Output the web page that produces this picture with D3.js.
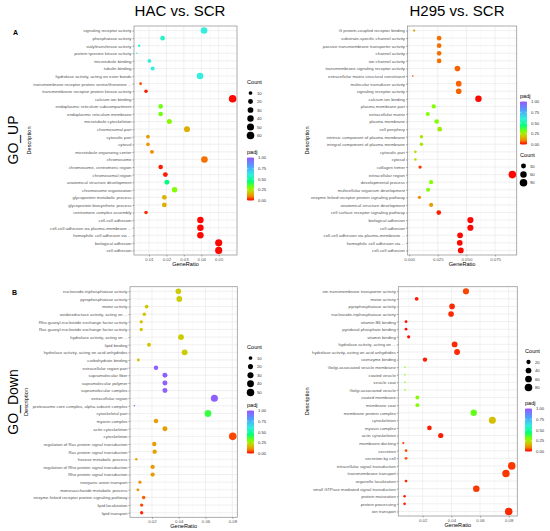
<!DOCTYPE html>
<html>
<head>
<meta charset="utf-8">
<script src="https://cdn.jsdelivr.net/npm/d3@7"></script>
<style>
  body { margin: 0; background: #fff; }
  text { font-family: "Liberation Sans", Arial, sans-serif; }
</style>
</head>
<body>
<div id="chart"></div>
<script>
// GO_UP, HAC vs. SCR
const upHacTerms = [
  "signaling receptor activity", "phosphatase activity", "sialyltransferase activity",
  "protein tyrosine kinase activity", "microtubule binding", "tubulin binding",
  "hydrolase activity, acting on ester bonds", "transmembrane receptor protein serine/threonine ...",
  "transmembrane receptor protein kinase activity", "calcium ion binding",
  "endoplasmic reticulum subcompartment", "endoplasmic reticulum membrane",
  "microtubule cytoskeleton", "chromosomal part", "cytosolic part", "cytosol",
  "microtubule organizing center", "chromosome", "chromosome, centromeric region",
  "chromosomal region", "anatomical structure development", "chromosome organization",
  "glycoprotein metabolic process", "glycoprotein biosynthetic process",
  "centromere complex assembly", "cell-cell adhesion", "cell-cell adhesion via plasma-membrane ...",
  "homophilic cell adhesion via ...", "biological adhesion", "cell adhesion"
];
const upHacRatio = [0.0416, 0.0178, 0.0043, 0.0031, 0.0102, 0.0121, 0.0393, 0.0052, 0.0083, 0.058,
  0.0167, 0.0167, 0.0217, 0.0318, 0.0094, 0.0094, 0.0117, 0.0418, 0.0167, 0.0194,
  0.0203, 0.0247, 0.0188, 0.0188, 0.0083, 0.0395, 0.0395, 0.0395, 0.05, 0.05];
const upHacCount = [43, 18, 4, 3, 11, 13, 41, 5, 9, 60, 17, 17, 22, 33, 10, 10, 12, 43, 17, 20,
  21, 26, 19, 19, 9, 41, 41, 41, 52, 52];
const upHacPadj = [0.6, 0.56, 0.6, 0.6, 0.6, 0.6, 0.6, 0.05, 0.02, 0.005, 0.32, 0.32, 0.29, 0.15, 0.12, 0.12,
  0.1, 0.08, 0.02, 0.02, 0.45, 0.3, 0.16, 0.16, 0.03, 0.005, 0.005, 0.005, 0.005, 0.005];
const upHacTicks = [0.01, 0.02, 0.03, 0.04, 0.05];
const upHacCountBreaks = [10, 20, 30, 40, 50, 60];

// GO_UP, H295 vs. SCR
const upH295Terms = [
  "G protein-coupled receptor binding", "substrate-specific channel activity",
  "passive transmembrane transporter activity", "channel activity", "ion channel activity",
  "transmembrane signaling receptor activity", "extracellular matrix structural constituent",
  "molecular transducer activity", "signaling receptor activity", "calcium ion binding",
  "plasma membrane part", "extracellular matrix", "plasma membrane", "cell periphery",
  "intrinsic component of plasma membrane", "integral component of plasma membrane",
  "cytosolic part", "cytosol", "collagen trimer", "extracellular region", "developmental process",
  "multicellular organism development", "enzyme linked receptor protein signaling pathway",
  "anatomical structure development", "cell surface receptor signaling pathway",
  "biological adhesion", "cell adhesion", "cell-cell adhesion via plasma-membrane ...",
  "homophilic cell adhesion via ...", "cell-cell adhesion"
];
const upH295Ratio = [0.0044, 0.0262, 0.0262, 0.0262, 0.0262, 0.0422, 0.0032, 0.0433, 0.0433, 0.0605,
  0.0215, 0.0163, 0.0241, 0.0267, 0.0108, 0.0108, 0.0055, 0.0055, 0.0096, 0.0901,
  0.0192, 0.0166, 0.009, 0.0192, 0.0259, 0.0535, 0.0535, 0.0445, 0.0442, 0.0451];
const upH295Count = [4, 26, 26, 26, 26, 42, 3, 43, 43, 60, 21, 16, 24, 27, 11, 11, 5, 5, 10, 90,
  19, 17, 9, 19, 26, 53, 53, 44, 44, 45];
const upH295Padj = [0.13, 0.08, 0.08, 0.08, 0.08, 0.07, 0.05, 0.07, 0.07, 0.005, 0.3, 0.3, 0.3, 0.26,
  0.25, 0.25, 0.23, 0.23, 0.04, 0.005, 0.3, 0.3, 0.1, 0.13, 0.02, 0.005, 0.005, 0.005, 0.005, 0.005];
const upH295Ticks = [0, 0.025, 0.05, 0.075];
const upH295CountBreaks = [30, 60, 90];

// GO_Down, HAC vs. SCR
const downHacTerms = [
  "nucleoside-triphosphatase activity", "pyrophosphatase activity", "motor activity",
  "oxidoreductase activity, acting on ...", "Rho guanyl-nucleotide exchange factor activity",
  "Ras guanyl-nucleotide exchange factor activity", "hydrolase activity, acting on ...",
  "lipid binding", "hydrolase activity, acting on acid anhydrides", "carbohydrate binding",
  "extracellular region part", "supramolecular fiber", "supramolecular polymer",
  "supramolecular complex", "extracellular region", "proteasome core complex, alpha-subunit complex",
  "cytoskeletal part", "myosin complex", "actin cytoskeleton", "cytoskeleton",
  "regulation of Ras protein signal transduction", "Ras protein signal transduction",
  "hexose metabolic process", "regulation of Rho protein signal transduction",
  "Rho protein signal transduction", "inorganic anion transport", "monosaccharide metabolic process",
  "enzyme linked receptor protein signaling pathway", "lipid localization", "lipid transport"
];
const downHacRatio = [0.0397, 0.0404, 0.016, 0.0143, 0.012, 0.012, 0.0417, 0.0178, 0.0444, 0.0098,
  0.023, 0.0297, 0.0297, 0.0297, 0.0666, 0.0068, 0.0618, 0.023, 0.0297, 0.0803,
  0.0217, 0.022, 0.0083, 0.0205, 0.0205, 0.011, 0.0095, 0.0138, 0.0123, 0.0123];
const downHacCount = [25, 26, 10, 9, 8, 8, 27, 11, 28, 6, 15, 19, 19, 19, 43, 4, 40, 15, 19, 51,
  14, 14, 5, 13, 13, 7, 6, 9, 8, 8];
const downHacPadj = [0.2, 0.2, 0.19, 0.19, 0.19, 0.19, 0.2, 0.19, 0.2, 0.18, 0.97, 0.97, 0.97, 0.97,
  0.97, 0.97, 0.38, 0.13, 0.13, 0.05, 0.13, 0.13, 0.14, 0.12, 0.12, 0.11, 0.1, 0.07, 0.05, 0.03];
const downHacTicks = [0.02, 0.04, 0.06, 0.08];
const downHacCountBreaks = [10, 20, 30, 40, 50];

// GO_Down, H295 vs. SCR
const downH295Terms = [
  "ion transmembrane transporter activity", "motor activity", "pyrophosphatase activity",
  "nucleoside-triphosphatase activity", "vitamin B6 binding", "pyridoxal phosphate binding",
  "vitamin binding", "hydrolase activity, acting on ...", "hydrolase activity, acting on acid anhydrides",
  "coenzyme binding", "Golgi-associated vesicle membrane", "coated vesicle", "vesicle coat",
  "Golgi-associated vesicle", "coated membrane", "membrane coat", "membrane protein complex",
  "cytoskeleton", "myosin complex", "actin cytoskeleton", "membrane docking", "secretion",
  "secretion by cell", "intracellular signal transduction", "transmembrane transport",
  "organelle localization", "small GTPase mediated signal transduction", "protein maturation",
  "protein processing", "ion transport"
];
const downH295Ratio = [0.0502, 0.0158, 0.0405, 0.0398, 0.0084, 0.0084, 0.0102, 0.0423, 0.044, 0.0216,
  0.0076, 0.0076, 0.0076, 0.0076, 0.0163, 0.0163, 0.0556, 0.0686, 0.0247, 0.0326,
  0.0065, 0.0084, 0.0084, 0.0821, 0.0781, 0.0084, 0.0574, 0.0074, 0.0074, 0.08];
const downH295Count = [49, 15, 39, 39, 8, 8, 10, 41, 43, 21, 5, 5, 5, 5, 16, 16, 54, 67, 24, 32,
  6, 8, 8, 80, 76, 8, 56, 7, 7, 78];
const downH295Padj = [0.05, 0.02, 0.03, 0.03, 0.01, 0.01, 0.01, 0.03, 0.03, 0.02, 0.3, 0.3, 0.3, 0.3,
  0.3, 0.3, 0.33, 0.18, 0.02, 0.02, 0.05, 0.06, 0.06, 0.04, 0.04, 0.03, 0.04, 0.02, 0.02, 0.03];
const downH295Ticks = [0.02, 0.04, 0.06, 0.08];
const downH295CountBreaks = [20, 40, 60, 80];

const padjStops = [0, 0.1, 0.2, 0.3, 0.45, 0.6, 0.8, 1];
const padjColors = ["#ff0000", "#f28c00", "#cccc00", "#80ff00", "#00ff80", "#33eedd", "#4f9fff", "#9955ff"];
const padjTicks = [0, 0.25, 0.5, 0.75, 1];

const color = d3.scaleLinear().domain(padjStops).range(padjColors).clamp(true);

const svg = d3.select("#chart").append("svg").attr("width", 550).attr("height", 531);

// one gradient for all colour bars
const grad = svg.append("defs").append("linearGradient")
  .attr("id", "padjGrad").attr("x1", 0).attr("y1", 1).attr("x2", 0).attr("y2", 0);
d3.range(0, 1.001, 0.05).forEach((t) => {
  grad.append("stop").attr("offset", t).attr("stop-color", color(t));
});

function drawPanel(p) {
  const g = svg.append("g");
  const x = d3.scaleLinear().domain(p.domain).range([p.left, p.right]);
  const y = d3.scalePoint().domain(p.terms).range([p.top, p.bottom]).padding(0.6);

  const cMin = d3.min(p.counts);
  const cMax = d3.max(p.counts);
  const radius = (c) => 0.8 + 3.0 * Math.sqrt(Math.max(0, (c - cMin) / (cMax - cMin)));

  // panel + grid
  g.append("rect")
    .attr("x", p.left).attr("y", p.top)
    .attr("width", p.right - p.left).attr("height", p.bottom - p.top)
    .attr("fill", "#fff");

  const step = p.ticks[1] - p.ticks[0];
  const minor = d3.range(p.ticks[0] - step / 2, p.domain[1], step).filter((v) => v > p.domain[0]);
  g.selectAll(".minor").data(minor).enter().append("line")
    .attr("x1", (d) => x(d)).attr("x2", (d) => x(d))
    .attr("y1", p.top).attr("y2", p.bottom)
    .attr("stroke", "#f2f2f2").attr("stroke-width", 0.4);
  g.selectAll(".vmajor").data(p.ticks).enter().append("line")
    .attr("x1", (d) => x(d)).attr("x2", (d) => x(d))
    .attr("y1", p.top).attr("y2", p.bottom)
    .attr("stroke", "#e6e6e6").attr("stroke-width", 0.6);
  g.selectAll(".hmajor").data(p.terms).enter().append("line")
    .attr("x1", p.left).attr("x2", p.right)
    .attr("y1", (d) => y(d)).attr("y2", (d) => y(d))
    .attr("stroke", "#e6e6e6").attr("stroke-width", 0.6);

  // points
  g.selectAll("circle.pt").data(p.terms).enter().append("circle")
    .attr("cx", (d, i) => x(p.ratio[i]))
    .attr("cy", (d) => y(d))
    .attr("r", (d, i) => radius(p.counts[i]))
    .attr("fill", (d, i) => color(p.padj[i]));

  g.append("rect")
    .attr("x", p.left).attr("y", p.top)
    .attr("width", p.right - p.left).attr("height", p.bottom - p.top)
    .attr("fill", "none").attr("stroke", "#999").attr("stroke-width", 0.8);

  // axes
  const yAxis = g.append("g").attr("transform", `translate(${p.left},0)`)
    .call(d3.axisLeft(y).tickSize(1.5).tickPadding(1));
  const xAxis = g.append("g").attr("transform", `translate(0,${p.bottom})`)
    .call(d3.axisBottom(x).tickValues(p.ticks).tickFormat(d3.format(p.fmt)).tickSize(1.5).tickPadding(1));
  [yAxis, xAxis].forEach((a) => {
    a.select(".domain").remove();
    a.selectAll(".tick line").attr("stroke", "#555").attr("stroke-width", 0.5);
    a.selectAll(".tick text").attr("fill", "#555").attr("font-size", "4.3px");
  });

  g.append("text")
    .attr("x", (p.left + p.right) / 2).attr("y", p.bottom + 11)
    .attr("text-anchor", "middle").attr("font-size", "5.6px")
    .text("GeneRatio");
  g.append("text")
    .attr("transform", `translate(${p.descX},${(p.top + p.bottom) / 2}) rotate(-90)`)
    .attr("text-anchor", "middle").attr("font-size", "5.6px")
    .text("Description");

  // Count legend
  g.append("text").attr("x", p.legendX).attr("y", p.countY)
    .attr("font-size", "5.6px").text("Count");
  p.countBreaks.forEach((c, i) => {
    const cy = p.countY + 9 + i * p.countStep;
    g.append("circle").attr("cx", p.legendX + 3.5).attr("cy", cy).attr("r", radius(c)).attr("fill", "#000");
    g.append("text").attr("x", p.legendX + 10).attr("y", cy + 1.5)
      .attr("font-size", "4.2px").attr("fill", "#333").text(c);
  });

  // padj legend
  const barTop = p.padjY + 3.5;
  const barH = 43;
  const bar = d3.scaleLinear().domain([0, 1]).range([barTop + barH, barTop]);
  g.append("text").attr("x", p.legendX).attr("y", p.padjY)
    .attr("font-size", "5.6px").text("padj");
  g.append("rect").attr("x", p.legendX).attr("y", barTop)
    .attr("width", 7).attr("height", barH).attr("fill", "url(#padjGrad)");
  padjTicks.forEach((t) => {
    const ty = bar(t);
    g.append("line").attr("x1", p.legendX).attr("x2", p.legendX + 1.4)
      .attr("y1", ty).attr("y2", ty).attr("stroke", "#fff").attr("stroke-width", 0.5);
    g.append("line").attr("x1", p.legendX + 5.6).attr("x2", p.legendX + 7)
      .attr("y1", ty).attr("y2", ty).attr("stroke", "#fff").attr("stroke-width", 0.5);
    g.append("text").attr("x", p.legendX + 11).attr("y", ty + 1.5)
      .attr("font-size", "4.2px").attr("fill", "#333").text(d3.format(".2f")(t));
  });
}

drawPanel({
  terms: upHacTerms, ratio: upHacRatio, counts: upHacCount, padj: upHacPadj,
  ticks: upHacTicks, fmt: ".2f", domain: [0.0014, 0.0605],
  left: 134, right: 237, top: 26, bottom: 255, descX: 31,
  legendX: 247, countY: 84, countStep: 8.5, countBreaks: upHacCountBreaks, padjY: 154
});
drawPanel({
  terms: upH295Terms, ratio: upH295Ratio, counts: upH295Count, padj: upH295Padj,
  ticks: upH295Ticks, fmt: ".3f", domain: [-0.0014, 0.0939],
  left: 407.5, right: 516.7, top: 26, bottom: 255, descX: 309,
  legendX: 520, countY: 157, countStep: 8.4, countBreaks: upH295CountBreaks, padjY: 98
});
drawPanel({
  terms: downHacTerms, ratio: downHacRatio, counts: downHacCount, padj: downHacPadj,
  ticks: downHacTicks, fmt: ".2f", domain: [0.0036, 0.0837],
  left: 130, right: 237.3, top: 286.7, bottom: 517.3, descX: 28,
  legendX: 247, countY: 349, countStep: 8.6, countBreaks: downHacCountBreaks, padjY: 407
});
drawPanel({
  terms: downH295Terms, ratio: downH295Ratio, counts: downH295Count, padj: downH295Padj,
  ticks: downH295Ticks, fmt: ".2f", domain: [0.003, 0.086],
  left: 398.3, right: 517.3, top: 286.7, bottom: 516, descX: 309,
  legendX: 525, countY: 353, countStep: 8.5, countBreaks: downH295CountBreaks, padjY: 405
});

// titles and row labels
svg.append("text").attr("x", 180).attr("y", 16).attr("text-anchor", "middle")
  .attr("font-size", "15px").text("HAC vs. SCR");
svg.append("text").attr("x", 457).attr("y", 16).attr("text-anchor", "middle")
  .attr("font-size", "15px").text("H295 vs. SCR");
svg.append("text").attr("x", 13).attr("y", 35).attr("font-size", "7px")
  .attr("font-weight", "bold").text("A");
svg.append("text").attr("x", 12).attr("y", 295).attr("font-size", "7px")
  .attr("font-weight", "bold").text("B");
svg.append("text").attr("transform", "translate(18,140) rotate(-90)")
  .attr("text-anchor", "middle").attr("font-size", "14px").text("GO_UP");
svg.append("text").attr("transform", "translate(18,402) rotate(-90)")
  .attr("text-anchor", "middle").attr("font-size", "14px").text("GO_Down");
</script>
</body>
</html>
